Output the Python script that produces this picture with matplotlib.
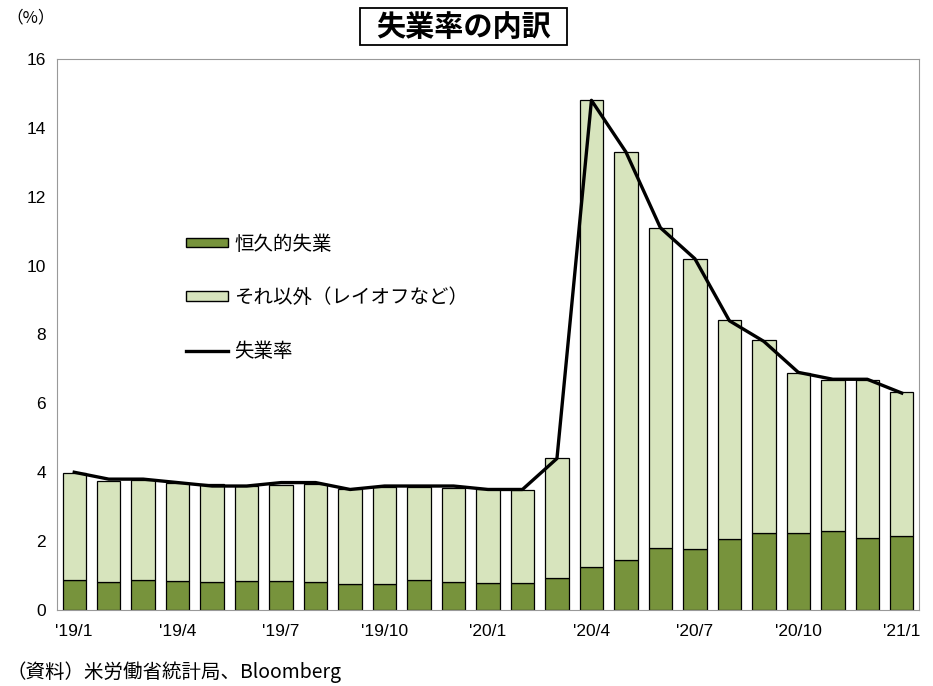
import numpy as np
import matplotlib.pyplot as plt
from matplotlib.patches import Patch, Rectangle
from matplotlib.lines import Line2D

plt.rcParams['font.family'] = ['Noto Sans CJK JP', 'DejaVu Sans']

months = ["'19/1", "'19/2", "'19/3", "'19/4", "'19/5", "'19/6", "'19/7", "'19/8",
          "'19/9", "'19/10", "'19/11", "'19/12", "'20/1", "'20/2", "'20/3", "'20/4",
          "'20/5", "'20/6", "'20/7", "'20/8", "'20/9", "'20/10", "'20/11", "'20/12",
          "'21/1"]

# 失業率 (headline rate)
rate = [4.0, 3.8, 3.8, 3.7, 3.6, 3.6, 3.7, 3.7, 3.5, 3.6, 3.6, 3.6, 3.5, 3.5,
        4.4, 14.8, 13.3, 11.1, 10.2, 8.4, 7.8, 6.9, 6.7, 6.7, 6.3]

# 恒久的失業 (permanent job losers)
permanent = [0.87, 0.82, 0.87, 0.84, 0.81, 0.84, 0.83, 0.81, 0.75, 0.75, 0.86,
             0.81, 0.79, 0.77, 0.92, 1.26, 1.44, 1.79, 1.77, 2.06, 2.25, 2.24,
             2.29, 2.08, 2.16]

# bar tops; それ以外 = top minus permanent
bar_total = [3.97, 3.76, 3.78, 3.70, 3.65, 3.61, 3.63, 3.65, 3.50, 3.57, 3.57,
             3.53, 3.51, 3.48, 4.40, 14.8, 13.3, 11.1, 10.2, 8.43, 7.84, 6.89,
             6.68, 6.68, 6.34]
other = [t - p for t, p in zip(bar_total, permanent)]

DARK = '#77933C'
LIGHT = '#D7E4BD'
TICKFONT = ['Liberation Sans', 'DejaVu Sans']

fig = plt.figure(figsize=(9.33, 6.86), dpi=100)
ax = fig.add_axes([57 / 933, 1 - 610 / 686, (919 - 57) / 933, (610 - 59) / 686])

x = np.arange(len(months))
ax.bar(x, permanent, width=0.68, color=DARK, edgecolor='black', linewidth=0.9)
ax.bar(x, other, width=0.68, bottom=permanent, color=LIGHT, edgecolor='black',
       linewidth=0.9)
ax.plot(x, rate, color='black', linewidth=2.4, zorder=5)

ax.set_xlim(-0.5, len(months) - 0.5)
ax.set_ylim(0, 16)
ax.set_yticks(np.arange(0, 17, 2))
ax.set_xticks(x[::3])
ax.set_xticklabels(months[::3])
ax.tick_params(length=0, labelsize=12.5, pad=8)
ax.tick_params(axis='x', pad=10)
for lab in ax.get_xticklabels() + ax.get_yticklabels():
    lab.set_family(TICKFONT)
for s in ax.spines.values():
    s.set_color('#999999')

handles = [Patch(facecolor=DARK, edgecolor='black', linewidth=1.0),
           Patch(facecolor=LIGHT, edgecolor='black', linewidth=1.0),
           Line2D([], [], color='black', linewidth=2.4)]
labels = ['恒久的失業', 'それ以外（レイオフなど）', '失業率']
ax.legend(handles, labels, loc='upper left', bbox_to_anchor=(168 / 933, 1 - 216 / 686),
          bbox_transform=fig.transFigure, frameon=False, fontsize=14,
          handlelength=2.2, handleheight=0.4, handletextpad=0.3, labelspacing=1.68)

# title with box
fig.patches.append(Rectangle((360 / 933, 1 - 45 / 686), 207 / 933, 37 / 686,
                             transform=fig.transFigure, facecolor='white',
                             edgecolor='black', linewidth=1.3))
fig.text(463.5 / 933, 1 - 27 / 686, '失業率の内訳', ha='center', va='center',
         fontsize=21, fontweight='bold')
fig.text(6 / 933, 1 - 18 / 686, '（%）', ha='left', va='center', fontsize=12)
fig.text(6 / 933, 1 - 672 / 686, '（資料）米労働省統計局、Bloomberg', ha='left',
         va='center', fontsize=14)

fig.savefig('out.png', dpi=100)
